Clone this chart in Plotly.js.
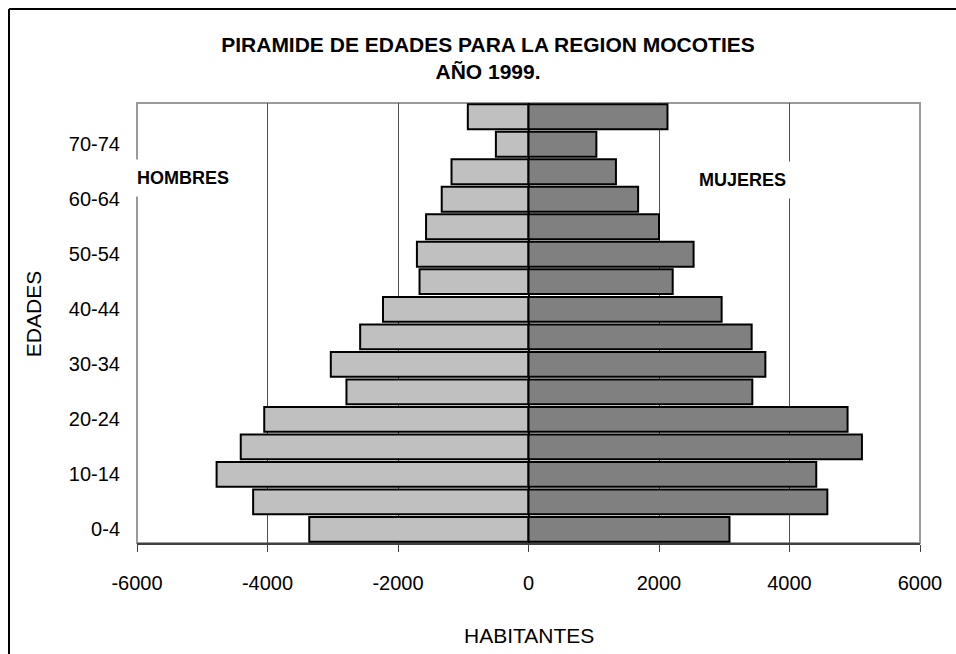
<!DOCTYPE html>
<html>
<head>
<meta charset="utf-8">
<script src="https://cdn.plot.ly/plotly-3.0.1.min.js"></script>
<style>html,body{margin:0;padding:0;background:#fff;}#chart{width:956px;height:654px;}</style>
</head>
<body>
<div id="chart"></div>
<script>
// Age groups, bottom to top
const categories = ['0-4','5-9','10-14','15-19','20-24','25-29','30-34','35-39','40-44','45-49','50-54','55-59','60-64','65-69','70-74','75+'];
// Men (drawn to the left, as negative values)
const hombres = [3360, 4220, 4780, 4410, 4050, 2790, 3030, 2580, 2230, 1670, 1710, 1570, 1330, 1180, 500, 930];
// Women
const mujeres = [3080, 4580, 4410, 5110, 4890, 3430, 3630, 3420, 2960, 2210, 2530, 2000, 1680, 1340, 1040, 2130];
// Axis ticks
const xTicks = [-6000, -4000, -2000, 0, 2000, 4000, 6000];
const yTickLabels = ['0-4','10-14','20-24','30-34','40-44','50-54','60-64','70-74'];

const FONT = 'Liberation Sans, Arial, sans-serif';

const traces = [
  {
    type: 'bar', orientation: 'h', name: 'HOMBRES',
    y: categories, x: hombres.map(v => -v),
    marker: {color: '#C0C0C0', line: {color: '#000000', width: 2}},
    hoverinfo: 'skip'
  },
  {
    type: 'bar', orientation: 'h', name: 'MUJERES',
    y: categories, x: mujeres,
    marker: {color: '#808080', line: {color: '#000000', width: 2}},
    hoverinfo: 'skip'
  }
];

const boundaries = [];
for (let i = 0; i <= categories.length; i++) boundaries.push(i - 0.5);

const layout = {
  width: 956, height: 654,
  margin: {l: 137, r: 36, t: 103, b: 111, pad: 0},
  paper_bgcolor: '#ffffff', plot_bgcolor: '#ffffff',
  showlegend: false,
  barmode: 'overlay',
  bargap: 0.1,
  font: {family: FONT, color: '#000000', size: 20},
  title: {
    text: '<b>PIRAMIDE DE EDADES PARA LA REGION MOCOTIES<br>AÑO 1999.</b>',
    x: 488/956, xref: 'container', xanchor: 'center',
    y: 1 - 52/654, yref: 'container', yanchor: 'top',
    font: {family: FONT, size: 21, color: '#000000'}
  },
  xaxis: {
    range: [-6000, 6000],
    tickmode: 'array', tickvals: xTicks, ticktext: xTicks.map(String),
    showgrid: true, gridcolor: '#505050', gridwidth: 1,
    zeroline: true, zerolinecolor: '#000000', zerolinewidth: 2,
    showline: true, linecolor: '#404040', linewidth: 2,
    ticks: 'outside', ticklen: 7, tickcolor: '#404040', tickwidth: 1,
    ticklabelstandoff: 14,
    tickfont: {family: FONT, size: 20, color: '#000000'},
    fixedrange: true
  },
  yaxis: {
    type: 'category', categoryorder: 'array', categoryarray: categories,
    range: [-0.5, categories.length - 0.5],
    tickmode: 'array', tickvals: yTickLabels, ticktext: yTickLabels,
    showgrid: false, zeroline: false, showline: false,
    ticks: '', ticklabelstandoff: 16,
    tickfont: {family: FONT, size: 20, color: '#000000'},
    fixedrange: true
  },
  yaxis2: {
    overlaying: 'y', anchor: 'free', position: 0.5, side: 'left',
    range: [-0.5, categories.length - 0.5],
    tickmode: 'array', tickvals: boundaries, showticklabels: false,
    ticks: 'outside', ticklen: 5, tickcolor: '#606060', tickwidth: 1,
    showgrid: false, zeroline: false, showline: false, fixedrange: true
  },
  yaxis3: {
    overlaying: 'y', anchor: 'free', position: 0.5, side: 'right',
    range: [-0.5, categories.length - 0.5],
    tickmode: 'array', tickvals: boundaries, showticklabels: false,
    ticks: 'outside', ticklen: 5, tickcolor: '#606060', tickwidth: 1,
    showgrid: false, zeroline: false, showline: false, fixedrange: true
  },
  shapes: [
    // plot-area border (gray)
    {type: 'rect', xref: 'paper', yref: 'paper', x0: 0, x1: 1, y0: 0, y1: 1,
     line: {color: '#9a9a9a', width: 2}, layer: 'below'},
    // outer chart frame (top and left edges)
    {type: 'line', xref: 'paper', yref: 'paper', x0: -128/783, x1: 1.1, y0: 534/440, y1: 534/440,
     line: {color: '#000000', width: 2}},
    {type: 'line', xref: 'paper', yref: 'paper', x0: -128/783, x1: -128/783, y0: 534/440, y1: -0.3,
     line: {color: '#000000', width: 2}}
  ],
  annotations: [
    {text: '<b>HOMBRES</b>', xref: 'paper', yref: 'paper', x: 0, y: 0.83,
     xanchor: 'left', yanchor: 'middle', xshift: -9, showarrow: false,
     bgcolor: '#ffffff', borderpad: 8, font: {family: FONT, size: 18, color: '#000000'}},
    {text: '<b>MUJERES</b>', xref: 'x', yref: 'paper', x: 3280, y: 0.825,
     xanchor: 'center', yanchor: 'middle', showarrow: false,
     bgcolor: '#ffffff', borderpad: 8, font: {family: FONT, size: 18, color: '#000000'}},
    {text: 'HABITANTES', xref: 'paper', yref: 'paper', x: 0.5, y: -92/440,
     xanchor: 'center', yanchor: 'middle', showarrow: false,
     font: {family: FONT, size: 21, color: '#000000'}},
    {text: 'EDADES', xref: 'paper', yref: 'paper', x: -104/783, y: 0.52,
     xanchor: 'center', yanchor: 'middle', textangle: -90, showarrow: false,
     font: {family: FONT, size: 21, color: '#000000'}}
  ]
};

Plotly.newPlot('chart', traces, layout, {displayModeBar: false, staticPlot: true});
</script>
</body>
</html>
